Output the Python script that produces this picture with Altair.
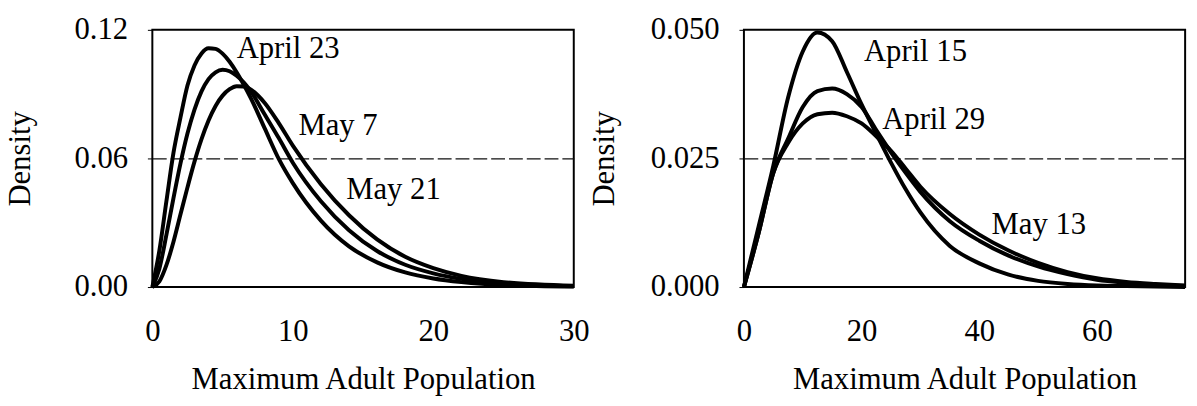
import altair as alt
import pandas as pd

# Left panel: density of maximum adult population, three release dates
left_x = [0, 0.5, 1, 1.5, 2, 2.5, 3, 3.5, 4, 4.5, 5, 5.5, 6, 6.5, 7, 8, 9, 10,
          12, 14, 16, 18, 20, 22, 25, 30]
apr23 = [0, 0.017, 0.040, 0.0625, 0.079, 0.094, 0.1034, 0.109, 0.1114, 0.1111, 0.1089,
         0.1051, 0.1002, 0.0945, 0.0883, 0.0740, 0.0598, 0.0485,
         0.0310, 0.019, 0.0115, 0.0068, 0.0040, 0.0023, 0.0009, 0.0002]
may7 = [0, 0.0086, 0.0243, 0.0414, 0.0576, 0.0716, 0.0828, 0.0913, 0.0970, 0.1002, 0.1014,
        0.1007, 0.0986, 0.0955, 0.0914, 0.0805, 0.0695, 0.0580,
        0.0400, 0.0265, 0.0168, 0.0104, 0.0064, 0.0038, 0.0016, 0.0004]
may21 = [0, 0.0026, 0.0102, 0.0210, 0.0338, 0.0465, 0.0585, 0.0690, 0.0777, 0.0845, 0.0893,
         0.0923, 0.0937, 0.0936, 0.0922, 0.0859, 0.0765, 0.0660,
         0.0480, 0.0335, 0.0222, 0.0141, 0.0088, 0.0052, 0.0023, 0.0006]

# Right panel
right_x = [0, 2.5, 5, 7.5, 10, 12.5, 15, 17.5, 20, 22.5, 25, 27.5, 30, 35, 40, 45, 50,
           55, 60, 65, 70, 75]
apr15 = [0, 0.0118, 0.0236, 0.0368, 0.0458, 0.0495, 0.0478, 0.0418, 0.0355, 0.0298, 0.0242,
         0.0190, 0.0145, 0.0080, 0.0046, 0.0024, 0.0012, 0.0006, 0.0003, 0.0002, 0.0001, 0.0]
apr29 = [0, 0.0105, 0.0222, 0.0288, 0.0350, 0.0381, 0.0386, 0.0375, 0.0350, 0.0305, 0.0262,
         0.0222, 0.0185, 0.0128, 0.0090, 0.0061, 0.0040, 0.0025, 0.0014, 0.0008, 0.0004, 0.0002]
may13 = [0, 0.0105, 0.0222, 0.0280, 0.0318, 0.0336, 0.0339, 0.0332, 0.0318, 0.0293, 0.0265,
         0.0230, 0.0195, 0.0142, 0.0102, 0.0071, 0.0047, 0.0029, 0.0017, 0.0010, 0.0006, 0.0003]

left_labels = ["April 23", "May 7", "May 21"]
left_label_x = [6.0, 10.4, 13.8]
left_label_y = [0.1108, 0.0752, 0.0452]
right_labels = ["April 15", "April 29", "May 13"]
right_label_x = [20.4, 23.5, 42.1]
right_label_y = [0.0456, 0.0325, 0.0121]

FONT = "Liberation Serif"
FS = 31


def long_form(xs, series):
    rows = []
    for name, ys in series.items():
        for xv, yv in zip(xs, ys):
            rows.append({"series": name, "x": xv, "y": yv})
    return pd.DataFrame(rows)


def panel(df, lab, xmax, xticks, ymax, yticks, yfmt, width, ytitle_pad):
    x = alt.X("x:Q", scale=alt.Scale(domain=[0, xmax], nice=False, zero=True),
              axis=alt.Axis(values=xticks, format="d", title="Maximum Adult Population",
                            grid=False, ticks=False, tickSize=0, domain=False,
                            labelFlush=False, labelPadding=30, titlePadding=19))
    y = alt.Y("y:Q", scale=alt.Scale(domain=[0, ymax], nice=False),
              axis=alt.Axis(values=yticks, format=yfmt, title="Density", grid=True,
                            gridColor="#111111", gridWidth=1.2, gridDash=[14, 4],
                            gridOpacity={"condition": {"test": f"datum.value > 0 && datum.value < {ymax}",
                                                       "value": 1}, "value": 0},
                            domain=False, ticks=True, tickSize=5, tickColor="black",
                            labelFlush=False, labelPadding=20, titlePadding=ytitle_pad))
    lines = alt.Chart(df).mark_line(color="black", strokeWidth=4,
                                    interpolate="monotone").encode(
        x=x, y=y, detail="series:N")
    text = alt.Chart(lab).mark_text(align="left", baseline="middle", font=FONT,
                                    fontSize=FS, color="black").encode(
        x="x:Q", y="y:Q", text="label:N")
    return alt.layer(lines, text).properties(width=width, height=260)


left_df = long_form(left_x, {"April 23": apr23, "May 7": may7, "May 21": may21})
right_df = long_form(right_x, {"April 15": apr15, "April 29": apr29, "May 13": may13})
left_lab = pd.DataFrame({"label": left_labels, "x": left_label_x, "y": left_label_y})
right_lab = pd.DataFrame({"label": right_labels, "x": right_label_x, "y": right_label_y})

left = panel(left_df, left_lab, 30, [0, 10, 20, 30], 0.12, [0, 0.06, 0.12], ".2f", 426, 38)
right = panel(right_df, right_lab, 75, [0, 20, 40, 60], 0.05, [0, 0.025, 0.05], ".3f", 446, 30)

chart = alt.hconcat(left, right, spacing=172, bounds="flush").properties(
    padding={"left": 3, "top": 11, "right": 3, "bottom": 0}
).configure(font=FONT, background="white").configure_view(
    stroke="black", strokeWidth=2
).configure_axis(
    labelFont=FONT, labelFontSize=FS, labelColor="black",
    titleFont=FONT, titleFontSize=FS, titleFontWeight="normal", titleColor="black"
)

chart.save("out.html", embed_options={"renderer": "svg", "actions": False})
